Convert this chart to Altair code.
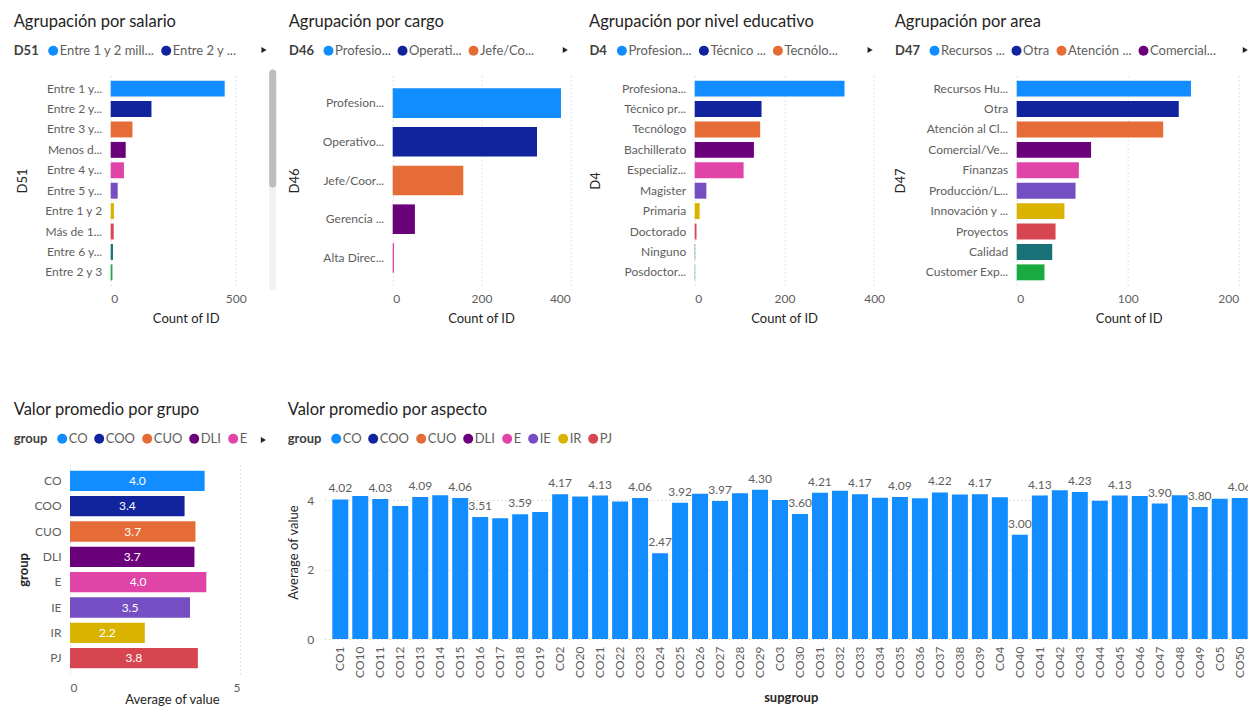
import json
import altair as alt
import pandas as pd

PALETTE = ["#118DFF", "#12239E", "#E66C37", "#6B007B", "#E044A7",
           "#744EC2", "#D9B300", "#D64550", "#197278", "#1AAB40"]
FONT = "Lato"
TITLE_COLOR = "#252423"
LABEL_COLOR = "#605E5C"
GRID_COLOR = "#C8C6C4"

# ---------------- data ----------------
salario_cat = ["Entre 1 y...", "Entre 2 y...", "Entre 3 y...", "Menos d...", "Entre 4 y...",
               "Entre 5 y...", "Entre 1 y 2", "Más de 1...", "Entre 6 y...", "Entre 2 y 3"]
salario_count = [456, 163, 87, 60, 53, 28, 13, 12, 9, 7]
salario_legend = {"Entre 1 y...": "Entre 1 y 2 mill...", "Entre 2 y...": "Entre 2 y ..."}

cargo_cat = ["Profesion...", "Operativo...", "Jefe/Coor...", "Gerencia ...", "Alta Direc..."]
cargo_count = [379, 325, 159, 50, 3]
cargo_legend = {"Profesion...": "Profesio...", "Operativo...": "Operati...", "Jefe/Coor...": "Jefe/Co..."}

educ_cat = ["Profesiona...", "Técnico pr...", "Tecnólogo", "Bachillerato", "Especializ...",
            "Magister", "Primaria", "Doctorado", "Ninguno", "Posdoctor..."]
educ_count = [334, 149, 146, 132, 109, 26, 11, 4, 1, 1]
educ_legend = {"Profesiona...": "Profesion...", "Técnico pr...": "Técnico ...", "Tecnólogo": "Tecnólo..."}

area_cat = ["Recursos Hu...", "Otra", "Atención al Cl...", "Comercial/Ve...", "Finanzas",
            "Producción/L...", "Innovación y ...", "Proyectos", "Calidad", "Customer Exp..."]
area_count = [157, 146, 132, 67, 56, 53, 43, 35, 32, 25]
area_legend = {"Recursos Hu...": "Recursos ...", "Otra": "Otra",
               "Atención al Cl...": "Atención ...", "Comercial/Ve...": "Comercial..."}

groups = ["CO", "COO", "CUO", "DLI", "E", "IE", "IR", "PJ"]
group_avg = [3.96, 3.37, 3.69, 3.66, 4.01, 3.53, 2.20, 3.76]

supgroups = ["CO1", "CO10", "CO11", "CO12", "CO13", "CO14", "CO15", "CO16", "CO17", "CO18",
             "CO19", "CO2", "CO20", "CO21", "CO22", "CO23", "CO24", "CO25", "CO26", "CO27",
             "CO28", "CO29", "CO3", "CO30", "CO31", "CO32", "CO33", "CO34", "CO35", "CO36",
             "CO37", "CO38", "CO39", "CO4", "CO40", "CO41", "CO42", "CO43", "CO44", "CO45",
             "CO46", "CO47", "CO48", "CO49", "CO5", "CO50"]
supgroup_avg = [4.02, 4.12, 4.03, 3.83, 4.09, 4.14, 4.06, 3.51, 3.48, 3.59,
                3.66, 4.17, 4.10, 4.13, 3.96, 4.06, 2.47, 3.92, 4.18, 3.97,
                4.20, 4.30, 4.00, 3.60, 4.21, 4.27, 4.17, 4.07, 4.09, 4.05,
                4.22, 4.16, 4.17, 4.08, 3.00, 4.13, 4.28, 4.23, 3.98, 4.13,
                4.12, 3.90, 4.14, 3.80, 4.04, 4.06]
labeled_supgroups = ["CO1", "CO11", "CO13", "CO15", "CO16", "CO18", "CO2", "CO21", "CO23",
                     "CO24", "CO25", "CO27", "CO29", "CO30", "CO31", "CO33", "CO35", "CO37",
                     "CO39", "CO40", "CO41", "CO43", "CO45", "CO47", "CO49", "CO50"]


def label_expr(mapping):
    expr = "datum.label"
    for k, v in reversed(list(mapping.items())):
        expr = f"datum.label === {json.dumps(k, ensure_ascii=False)} ? {json.dumps(v, ensure_ascii=False)} : ({expr})"
    return expr


def make_legend(title, values, lx, ly, mapping=None):
    kw = dict(orient="none", legendX=lx, legendY=ly, direction="horizontal", title=title,
              titleOrient="left", titlePadding=8, values=values, symbolType="circle",
              symbolSize=100, symbolStrokeWidth=0, symbolOpacity=1, columnPadding=5,
              labelOffset=0, padding=0, labelFontSize=13, titleFontSize=13,
              titleFontWeight="bold", titleColor="#404040", labelColor=LABEL_COLOR,
              labelFont=FONT, titleFont=FONT, titleBaseline="middle", labelLimit=300)
    if mapping:
        kw["labelExpr"] = label_expr(mapping)
    return alt.Legend(**kw)


def arrow(x, y):
    return alt.Chart(alt.Data(values=[{"a": 1}])).mark_point(
        shape="triangle-right", filled=True, color="#252423", size=35, opacity=1
    ).encode(x=alt.value(x), y=alt.value(y))


def panel_title(text):
    return alt.TitleParams(text, anchor="start", fontSize=16.5, font=FONT, color=TITLE_COLOR,
                           fontWeight="normal", offset=14)


def count_panel(title, field, cats, counts, dmax, ticks, width, legend_map, lx,
                ytitle_x, xtitle_x, arrow_x, pad_inner, pad_outer):
    df = pd.DataFrame({field: cats, "count": counts})
    bars = alt.Chart(df).mark_bar().encode(
        x=alt.X("count:Q",
                scale=alt.Scale(domain=[0, dmax], nice=False, zero=True),
                axis=alt.Axis(values=ticks, title="Count of ID", grid=True, gridDash=[1, 3],
                              gridColor=GRID_COLOR, domain=False, ticks=False, labelPadding=8,
                              titleX=xtitle_x, titleY=33, titleBaseline="middle", format="d")),
        y=alt.Y(f"{field}:N", sort=cats,
                scale=alt.Scale(paddingInner=pad_inner, paddingOuter=pad_outer),
                axis=alt.Axis(title=field, titleX=ytitle_x, titleAngle=270, titleBaseline="bottom",
                              labelPadding=9, domain=False, ticks=False, labelLimit=300, grid=False)),
        color=alt.Color(f"{field}:N",
                        scale=alt.Scale(domain=cats, range=PALETTE[:len(cats)]),
                        legend=make_legend(field, list(legend_map.keys()), lx, -32, legend_map)),
    )
    return alt.layer(bars, arrow(arrow_x, -26)).properties(
        width=width, height=209, title=panel_title(title))


p1 = count_panel("Agrupación por salario", "D51", salario_cat, salario_count, 630.8, [0, 500],
                 157.7, salario_legend, -97, -81.3, 75, 153.3, 0.22, 0.23)
scroll = alt.Chart(alt.Data(values=[{"a": 1}]))
track = scroll.mark_rule(color="#F3F2F1", strokeWidth=7, strokeCap="round").encode(
    x=alt.value(162), y=alt.value(-3), y2=alt.value(211))
thumb = scroll.mark_rule(color="#BDBDBD", strokeWidth=7, strokeCap="round").encode(
    x=alt.value(162), y=alt.value(-3), y2=alt.value(108))
p1 = alt.layer(p1, track, thumb)

p2 = count_panel("Agrupación por cargo", "D46", cargo_cat, cargo_count, 400, [0, 200, 400],
                 177.6, cargo_legend, -103.7, -91, 88.3, 172.6, 0.235, 0.318)
p3 = count_panel("Agrupación por nivel educativo", "D4", educ_cat, educ_count, 440.1, [0, 200, 400],
                 197.4, educ_legend, -105.3, -92.6, 89.4, 175.4, 0.22, 0.23)
p4 = count_panel("Agrupación por area", "D47", area_cat, area_count, 200, [0, 100, 200],
                 222, area_legend, -121.7, -109, 112, 228.6, 0.22, 0.23)

# bottom-left
bl_df = pd.DataFrame({"group": groups, "value": group_avg})
bl_base = alt.Chart(bl_df)
bl_bars = bl_base.mark_bar().encode(
    x=alt.X("value:Q", scale=alt.Scale(domain=[0, 5], nice=False),
            axis=alt.Axis(values=[0, 5], title="Average of value", grid=True, gridDash=[1, 3],
                          gridColor=GRID_COLOR, domain=False, ticks=False, labelPadding=8,
                          titleX=102, titleY=25, titleBaseline="middle")),
    y=alt.Y("group:N", sort=groups, scale=alt.Scale(paddingInner=0.2, paddingOuter=0.225),
            axis=alt.Axis(title="group", titleX=-40, titleAngle=270, titleBaseline="bottom",
                          titleFontWeight="bold", labelPadding=9, domain=False, ticks=False)),
    color=alt.Color("group:N", scale=alt.Scale(domain=groups, range=PALETTE[:8]),
                    legend=make_legend("group", groups[:5], -56.3, -33)),
)
bl_text = bl_base.mark_text(color="white", fontSize=12, font=FONT).transform_calculate(
    mid="datum.value / 2").encode(
    x=alt.X("mid:Q"), y=alt.Y("group:N", sort=groups), text=alt.Text("value:Q", format=".1f"))
bl = alt.layer(bl_bars, bl_text, arrow(193.4, -25)).properties(
    width=170, height=209, title=panel_title("Valor promedio por grupo"))

# bottom-right
br_df = pd.DataFrame({"supgroup": supgroups, "value": supgroup_avg})
br_df["group"] = "CO"
br_df["show"] = br_df["supgroup"].isin(labeled_supgroups)
br_base = alt.Chart(br_df)
br_x = alt.X("supgroup:N", sort=supgroups,
             scale=alt.Scale(paddingInner=0.2, paddingOuter=0.19, align=1),
             axis=alt.Axis(title="supgroup", labelAngle=-90, labelPadding=7, domain=False,
                           ticks=False, titleX=466, titleY=58, titleBaseline="middle",
                           titleFontWeight="bold"))
br_bars = br_base.mark_bar().encode(
    x=br_x,
    y=alt.Y("value:Q", scale=alt.Scale(domain=[0, 5.01], nice=False),
            axis=alt.Axis(values=[0, 2, 4], title="Average of value", grid=True, gridDash=[1, 3],
                          gridColor=GRID_COLOR, domain=False, ticks=False, labelPadding=11,
                          titleX=-24, titleAngle=270, titleBaseline="bottom")),
    color=alt.Color("group:N", scale=alt.Scale(domain=groups, range=PALETTE[:8]),
                    legend=make_legend("group", groups, -37, -33)),
)
br_text = br_base.mark_text(baseline="bottom", dy=-4, fontSize=12, color=LABEL_COLOR,
                            font=FONT, clip=True).transform_filter("datum.show").encode(
    x=alt.X("supgroup:N", sort=supgroups), y="value:Q", text=alt.Text("value:Q", format=".2f"))
br = alt.layer(br_bars, br_text).properties(
    width=923, height=174, title=panel_title("Valor promedio por aspecto"))

spacer = alt.Chart(alt.Data(values=[{"a": 1}])).mark_point(opacity=0).encode(
    x=alt.value(0), y=alt.value(0)).properties(width=1, height=1)

top_inner = alt.hconcat(p1, p2, p3, p4, spacing=124, bounds="flush").resolve_scale(
    color="independent").resolve_legend(color="independent")
top = alt.hconcat(spacer, top_inner, spacing=39.7, bounds="flush").resolve_scale(
    color="independent").resolve_legend(color="independent")
bottom = alt.hconcat(bl, br, spacing=84.7, bounds="flush").resolve_scale(
    color="independent").resolve_legend(color="independent")

chart = alt.vconcat(top, bottom, spacing=76, bounds="full").resolve_scale(
    color="independent").resolve_legend(color="independent").properties(
    padding={"left": 13, "top": 13, "right": 0, "bottom": 0},
    background="white",
).configure_view(stroke=None).configure_axis(
    labelFont=FONT, titleFont=FONT, labelColor=LABEL_COLOR, titleColor=TITLE_COLOR,
    labelFontSize=12, titleFontSize=13, titleFontWeight="normal",
).configure_legend(labelFont=FONT, titleFont=FONT).configure_title(font=FONT)

chart.save("out.html", embed_options={"renderer": "svg", "actions": False})
